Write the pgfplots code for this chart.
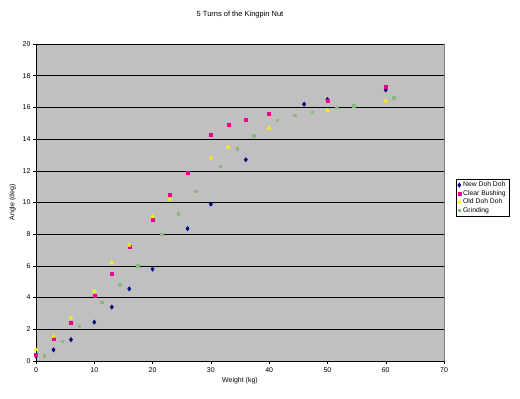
\documentclass[border=0pt]{standalone}
\usepackage{pgfplots}
\pgfplotsset{compat=1.18}
\usepackage{fontspec}
\setmainfont{Liberation Sans}
\definecolor{plotgray}{RGB}{192,192,192}
\definecolor{navyc}{RGB}{0,0,128}
\definecolor{grindc}{RGB}{140,185,130}
\begin{document}
\begin{tikzpicture}
\path[use as bounding box] (0,0) rectangle (520bp,399bp);
\node[font=\fontsize{7.5}{9}\selectfont] at (240bp,384bp) {5 Turns of the Kingpin Nut};
\begin{axis}[
  at={(36bp,38bp)}, anchor=south west,
  scale only axis, width=408bp, height=317bp,
  xmin=0, xmax=70, ymin=0, ymax=20,
  xtick={0,10,...,70}, ytick={0,2,...,20},
  axis background/.style={fill=plotgray, draw=gray},
  axis x line*=bottom, axis y line*=left,
  axis line style={black, thin},
  tick align=outside, major tick length=3bp,
  tick style={black, thin},
  ymajorgrids, grid style={black, thin},
  tick label style={font=\fontsize{7}{8}\selectfont},
  yticklabel style={xshift=1bp},
  /pgf/number format/assume math mode=true,
  xlabel={Weight (kg)}, ylabel={Angle (deg)},
  label style={font=\fontsize{7}{8}\selectfont},
  xlabel style={yshift=2bp},
  ylabel style={yshift=0bp},
  legend style={at={(rel axis cs:1.03,0.575)}, anchor=north west,
    font=\fontsize{6.8}{8}\selectfont, draw=black, fill=white,
    inner sep=1pt, row sep=-2pt},
  legend cell align=left,
  clip=false,
]
\addplot[only marks, mark=diamond*, mark size=2.2pt, mark options={draw=navyc, fill=navyc}] coordinates {
(0,0.3) (3,0.7) (6,1.35) (10,2.45) (13,3.4) (16,4.55) (20,5.8) (26,8.35) (30,9.9) (36,12.7) (46,16.2) (50,16.5) (60,17.1)
};
\addlegendentry{New Doh Doh}
\addplot[only marks, mark=square*, mark size=1.5pt, mark options={draw=magenta, fill=magenta}] coordinates {
(0,0.4) (3,1.4) (6,2.4) (10,4.1) (13,5.5) (16,7.2) (20,8.9) (23,10.5) (26,11.9) (30,14.3) (33,14.9) (36,15.2) (40,15.6) (50,16.4) (60,17.3)
};
\addlegendentry{Clear Bushing}
\addplot[only marks, mark=triangle*, mark size=2.2pt, mark options={draw=yellow, fill=yellow}] coordinates {
(0,0.7) (3,1.55) (6,2.7) (10,4.4) (13,6.2) (16,7.3) (20,9.1) (23,10.2) (30,12.8) (33,13.5) (40,14.7) (50,15.8) (60,16.4)
};
\addlegendentry{Old Doh Doh}
\addplot[only marks, mark=square*, mark size=1.3pt, mark options={draw=grindc, fill=grindc}] coordinates {
(1.4,0.35) (4.5,1.25) (7.4,2.2) (11.3,3.7) (14.4,4.8) (17.4,6.0) (21.6,8.0) (24.4,9.3) (27.4,10.7) (31.6,12.3) (34.5,13.4) (37.4,14.2) (41.4,15.2) (44.4,15.5) (47.4,15.7) (51.6,16.0) (54.5,16.1) (61.4,16.6)
};
\addlegendentry{Grinding}
\end{axis}
\end{tikzpicture}
\end{document}
